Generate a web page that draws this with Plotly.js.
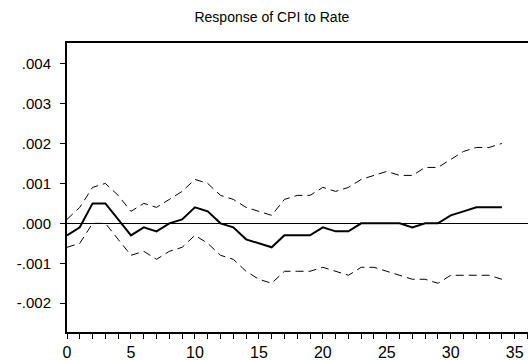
<!DOCTYPE html>
<html>
<head>
<meta charset="utf-8">
<script src="https://cdn.plot.ly/plotly-3.0.1.min.js"></script>
<style>html,body{margin:0;padding:0;background:#fff;}#chart{width:528px;height:360px;}</style>
</head>
<body>
<div id="chart"></div>
<script>
var periods = [0,1,2,3,4,5,6,7,8,9,10,11,12,13,14,15,16,17,18,19,20,21,22,23,24,25,26,27,28,29,30,31,32,33,34];
var response = [-0.0003,-0.0001,0.0005,0.0005,0.0001,-0.0003,-0.0001,-0.0002,0.0000,0.0001,0.0004,0.0003,0.0000,-0.0001,-0.0004,-0.0005,-0.0006,-0.0003,-0.0003,-0.0003,-0.0001,-0.0002,-0.0002,0.0000,0.0000,0.0000,0.0000,-0.0001,0.0000,0.0000,0.0002,0.0003,0.0004,0.0004,0.0004];
var upperBand = [0.0001,0.0004,0.0009,0.0010,0.0007,0.0003,0.0005,0.0004,0.0006,0.0008,0.0011,0.0010,0.0007,0.0006,0.0004,0.0003,0.0002,0.0006,0.0007,0.0007,0.0009,0.0008,0.0009,0.0011,0.0012,0.0013,0.0012,0.0012,0.0014,0.0014,0.0016,0.0018,0.0019,0.0019,0.0020];
var lowerBand = [-0.0006,-0.0005,0.0000,0.0000,-0.0004,-0.0008,-0.0007,-0.0009,-0.0007,-0.0006,-0.0003,-0.0005,-0.0008,-0.0009,-0.0012,-0.0014,-0.0015,-0.0012,-0.0012,-0.0012,-0.0011,-0.0012,-0.0013,-0.0011,-0.0011,-0.0012,-0.0013,-0.0014,-0.0014,-0.0015,-0.0013,-0.0013,-0.0013,-0.0013,-0.0014];
var yTickVals = [0.004,0.003,0.002,0.001,0,-0.001,-0.002];
var yTickText = [".004",".003",".002",".001",".000","-.001","-.002"];
var xTickVals = [0,5,10,15,20,25,30,35];
var titleText = "Response of CPI to Rate";

var traces = [
  {x: periods, y: upperBand, mode: "lines", line: {color: "#000", width: 1, dash: "8px,5px"}, hoverinfo: "skip"},
  {x: periods, y: lowerBand, mode: "lines", line: {color: "#000", width: 1, dash: "8px,5px"}, hoverinfo: "skip"},
  {x: periods, y: response, mode: "lines", line: {color: "#000", width: 2}, hoverinfo: "skip"}
];

var layout = {
  width: 528, height: 360,
  margin: {l: 67, r: 0, t: 43, b: 28, pad: 0},
  paper_bgcolor: "#fff", plot_bgcolor: "#fff",
  showlegend: false,
  font: {family: "Liberation Sans, Arial, sans-serif", color: "#000", size: 14},
  title: {text: titleText, x: 0.515, xanchor: "center", y: 0.952, yanchor: "middle", font: {size: 14, family: "Liberation Sans, Arial, sans-serif", color: "#000"}},
  xaxis: {
    range: [0, 36.04], showgrid: false, zeroline: false,
    showline: true, linecolor: "#000", linewidth: 2, mirror: true,
    tickvals: xTickVals, ticktext: xTickVals.map(String),
    ticks: "outside", ticklen: 5, tickwidth: 1, tickcolor: "#000",
    minor: {dtick: 1, ticks: "outside", ticklen: 5, tickwidth: 1, tickcolor: "#000", showgrid: false},
    tickfont: {size: 16}, ticklabelstandoff: 0
  },
  yaxis: {
    range: [-0.00272, 0.004515], showgrid: false, zeroline: true, zerolinecolor: "#000", zerolinewidth: 1,
    showline: true, linecolor: "#000", linewidth: 2,
    tickvals: yTickVals, ticktext: yTickText,
    ticks: "outside", ticklen: 5, tickwidth: 1, tickcolor: "#000",
    tickfont: {size: 15}, ticklabelstandoff: 6
  }
};

Plotly.newPlot("chart", traces, layout, {staticPlot: true, displayModeBar: false});
</script>
</body>
</html>
